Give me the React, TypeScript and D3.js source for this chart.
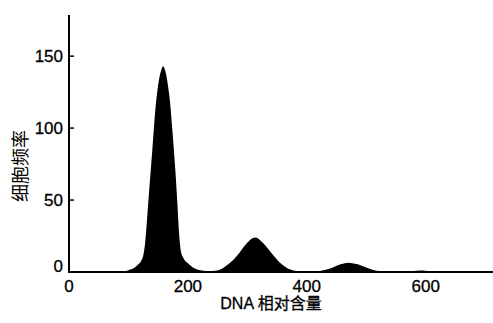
import React from 'react';
import * as d3 from 'd3';

const width = 493;
const height = 323;

// DNA relative content (x) and cell frequency (y)
const dnaContent = [
  0, 50, 95, 102, 110, 116, 121, 124, 128, 131, 134, 137, 140, 143, 146, 149, 152, 155,
  158, 161, 164, 167, 170, 173, 176, 179, 182, 185, 188, 192, 200, 217, 235,
  249, 260, 270, 284, 298, 313, 328, 343, 356, 370, 385,
  400, 420, 432, 444, 458, 470, 484, 501, 520, 535, 560, 585, 595, 605, 620, 720,
];
const cellFrequency = [
  0, 0, 0.6, 1.5, 3, 5, 7.5, 10, 20, 35, 52, 68, 84, 101, 116, 127, 135, 140,
  143, 141, 136, 128, 118, 103, 87, 70, 50, 28, 15, 10, 6, 1.5, 0.6,
  1, 3, 6, 12, 19.5, 24, 19.5, 12, 6, 2, 0.6,
  0.4, 0.6, 1.5, 3.2, 5.5, 6.5, 5.5, 3, 0.7, 0.3, 0.3, 0.8, 1, 0.6, 0.2, 0,
];

const yTicks = [0, 50, 100, 150];
const xTicks = [0, 200, 400, 600];

const x = d3.scaleLinear().domain([0, 720]).range([69, 497]);
const y = d3.scaleLinear().domain([0, 180]).range([272, 13]);

const points = dnaContent.map((d, i) => [d, cellFrequency[i]] as [number, number]);

const area = d3
  .area<[number, number]>()
  .x(d => x(d[0]))
  .y0(y(0))
  .y1(d => y(d[1]))
  .curve(d3.curveMonotoneX);

const font = '"Liberation Sans", Arial, sans-serif';

const App = () => (
  <svg
    width={width}
    height={height}
    style={{ position: 'absolute', left: 0, top: 0, background: 'white' }}
  >
    <path d={area(points) || ''} fill="black" />

    {/* axes */}
    <line x1={x(0)} x2={x(0)} y1={15} y2={y(0) + 1} stroke="black" strokeWidth={2} />
    <line x1={x(0) - 1} x2={width} y1={y(0)} y2={y(0)} stroke="black" strokeWidth={2} />

    {yTicks.map(t => (
      <g key={t}>
        {t > 0 && <line x1={x(0)} x2={x(0) + 5} y1={y(t)} y2={y(t)} stroke="black" strokeWidth={1.5} />}
        <text
          x={63}
          y={y(t) - (t === 0 ? 6 : 0)}
          textAnchor="end"
          dominantBaseline="central"
          fontFamily={font}
          fontSize={17}
          stroke="black"
          strokeWidth={0.3}
        >
          {t}
        </text>
      </g>
    ))}

    {xTicks.map(t => (
      <text
        key={t}
        x={x(t)}
        y={286}
        textAnchor="middle"
        dominantBaseline="central"
        fontFamily={font}
        fontSize={17}
        stroke="black"
        strokeWidth={0.3}
      >
        {t}
      </text>
    ))}

    <text
      x={271}
      y={303}
      textAnchor="middle"
      dominantBaseline="central"
      fontFamily={`Arial, "Liberation Sans", "Noto Sans CJK SC", sans-serif`}
      fontSize={16}
      stroke="black"
      strokeWidth={0.3}
    >
      DNA 相对含量
    </text>
    <text
      transform="translate(19,166) rotate(-90)"
      textAnchor="middle"
      dominantBaseline="central"
      fontFamily={`"Noto Sans CJK SC", sans-serif`}
      fontSize={18}
    >
      细胞频率
    </text>
  </svg>
);

export default App;
